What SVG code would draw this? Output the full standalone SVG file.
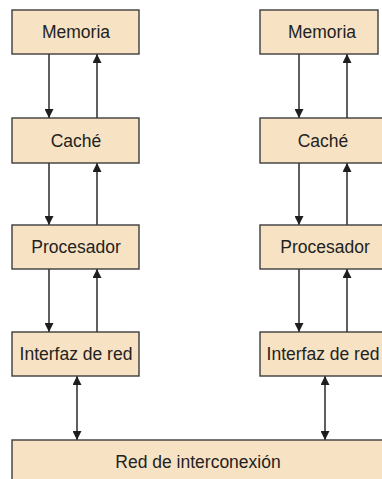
<svg xmlns="http://www.w3.org/2000/svg" width="382" height="479" viewBox="0 0 382 479">
<style>
.box{fill:#f7e3c3;stroke:#3c3c3c;stroke-width:1.4}
.lbl{font-family:"Liberation Sans",Arial,sans-serif;font-size:17.5px;fill:#222;text-anchor:middle}
.arr{stroke:#2a2a2a;stroke-width:1.5;fill:none}
</style>
<defs>
<marker id="ah" viewBox="0 0 10 10" refX="10" refY="5" markerUnits="userSpaceOnUse" markerWidth="9" markerHeight="9" orient="auto-start-reverse">
<path d="M0,0 L10,5 L0,10 z" fill="#1e1e1e"/>
</marker>
</defs>
<rect width="382" height="479" fill="#ffffff"/>
<g id="connectors">
<line class="arr" x1="49" y1="54" x2="49" y2="118" marker-end="url(#ah)"/>
<line class="arr" x1="97" y1="118" x2="97" y2="54" marker-end="url(#ah)"/>
<line class="arr" x1="49" y1="163" x2="49" y2="225" marker-end="url(#ah)"/>
<line class="arr" x1="97" y1="225" x2="97" y2="163" marker-end="url(#ah)"/>
<line class="arr" x1="49" y1="269" x2="49" y2="332" marker-end="url(#ah)"/>
<line class="arr" x1="97" y1="332" x2="97" y2="269" marker-end="url(#ah)"/>
<line class="arr" x1="77" y1="376" x2="77" y2="440" marker-start="url(#ah)" marker-end="url(#ah)"/>
<line class="arr" x1="299" y1="54" x2="299" y2="118" marker-end="url(#ah)"/>
<line class="arr" x1="347" y1="118" x2="347" y2="54" marker-end="url(#ah)"/>
<line class="arr" x1="299" y1="163" x2="299" y2="225" marker-end="url(#ah)"/>
<line class="arr" x1="347" y1="225" x2="347" y2="163" marker-end="url(#ah)"/>
<line class="arr" x1="299" y1="269" x2="299" y2="332" marker-end="url(#ah)"/>
<line class="arr" x1="347" y1="332" x2="347" y2="269" marker-end="url(#ah)"/>
<line class="arr" x1="325" y1="376" x2="325" y2="440" marker-start="url(#ah)" marker-end="url(#ah)"/>
</g>
<g id="memoria-1"><rect class="box" x="12" y="10" width="127" height="44"/><text class="lbl" x="76" y="38">Memoria</text></g>
<g id="cache-1"><rect class="box" x="12" y="118" width="127" height="45"/><text class="lbl" x="76" y="147">Caché</text></g>
<g id="procesador-1"><rect class="box" x="12" y="225" width="127" height="44"/><text class="lbl" x="76" y="253">Procesador</text></g>
<g id="interfaz-1"><rect class="box" x="12" y="332" width="127" height="44"/><text class="lbl" x="76" y="360">Interfaz de red</text></g>
<g id="memoria-2"><rect class="box" x="260" y="10" width="118" height="44"/><text class="lbl" x="322" y="38">Memoria</text></g>
<g id="cache-2"><rect class="box" x="260" y="118" width="130" height="45"/><text class="lbl" x="323" y="147">Caché</text></g>
<g id="procesador-2"><rect class="box" x="260" y="225" width="130" height="44"/><text class="lbl" x="325" y="253">Procesador</text></g>
<g id="interfaz-2"><rect class="box" x="260" y="332" width="130" height="44"/><text class="lbl" x="323" y="360">Interfaz de red</text></g>
<g id="red"><rect class="box" x="12" y="440" width="380" height="50"/><text class="lbl" x="198" y="468">Red de interconexión</text></g>
</svg>
